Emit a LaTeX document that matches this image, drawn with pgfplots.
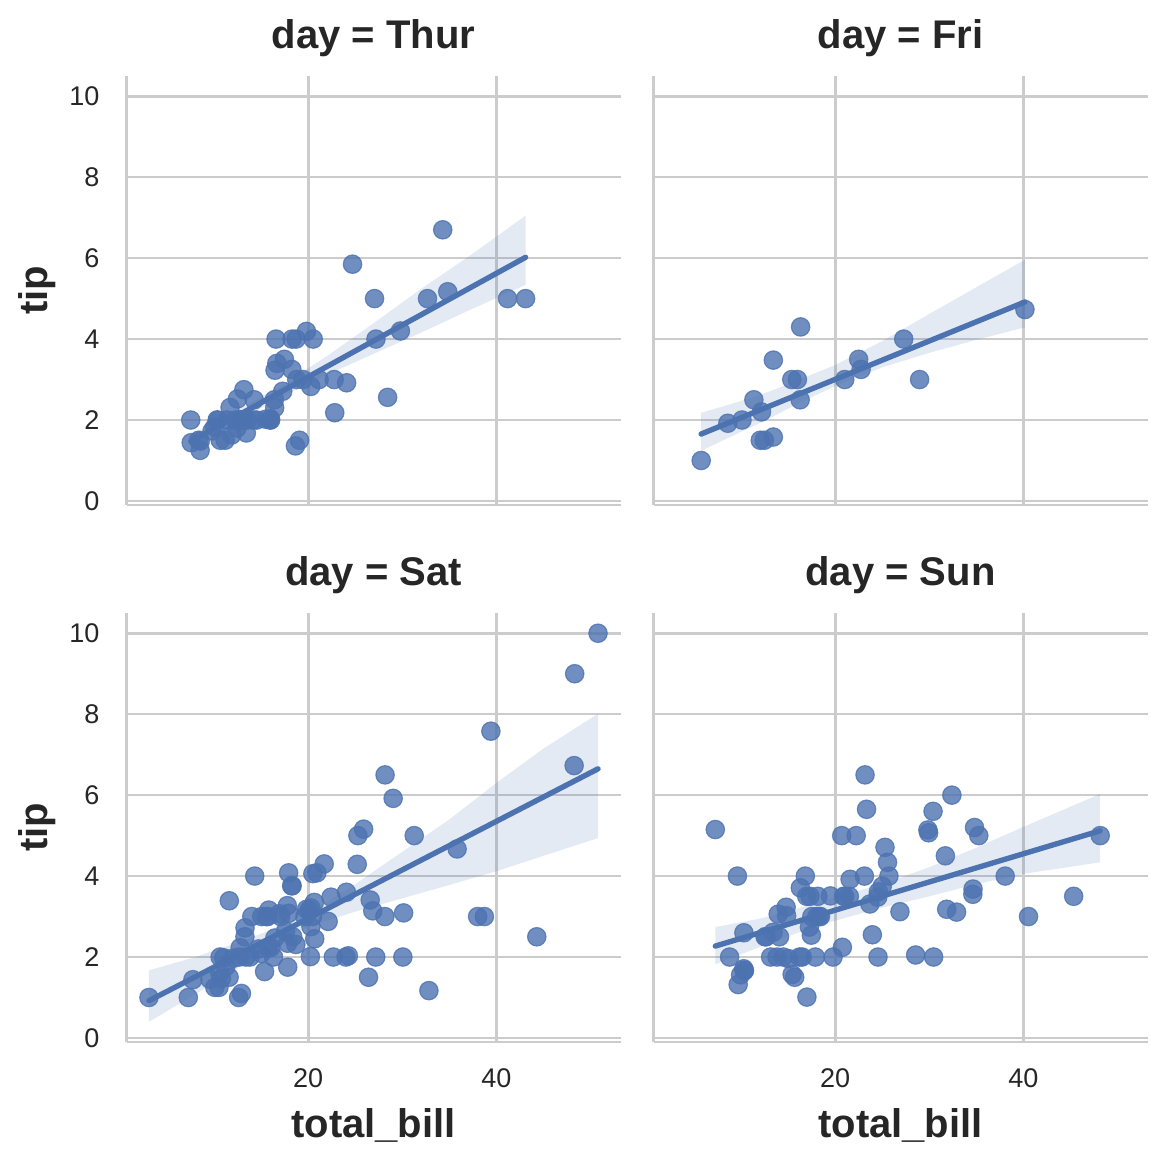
\documentclass[border=0pt]{standalone}
\usepackage{fontspec}
\setmainfont{Liberation Sans}
\usepackage{pgfplots}
\usepackage{pgfplotstable}
\pgfplotsset{compat=1.18}

\definecolor{deep}{HTML}{4C72B0}
\definecolor{gridgray}{HTML}{CCCCCC}
\definecolor{txt}{HTML}{262626}

% tips data, one table per day
\pgfplotstableread{
x y
27.20 4.00
22.76 3.00
17.29 2.71
19.44 3.00
16.66 3.40
10.07 1.83
32.68 5.00
15.98 2.03
34.83 5.17
13.03 2.00
18.28 4.00
24.71 5.85
21.16 3.00
10.65 1.50
12.43 1.80
24.08 2.92
11.69 2.31
13.42 1.68
14.26 2.50
15.95 2.00
12.48 2.52
29.80 4.20
8.52 1.48
14.52 2.00
11.38 2.00
22.82 2.18
19.08 1.50
20.27 2.83
11.17 1.50
12.26 2.00
18.26 3.25
8.51 1.25
10.33 2.00
14.15 2.00
16.00 2.00
13.16 2.75
17.47 3.50
34.30 6.70
41.19 5.00
27.05 5.00
16.43 2.30
8.35 1.50
18.64 1.36
11.87 1.63
9.78 1.73
7.51 2.00
19.81 4.19
28.44 2.56
15.48 2.02
16.58 4.00
7.56 1.44
10.34 2.00
43.11 5.00
13.00 2.00
13.51 2.00
18.71 4.00
12.74 2.01
13.00 2.00
16.40 2.50
20.53 4.00
16.47 3.23
18.78 3.00
}\thur

\pgfplotstableread{
x y
28.97 3.00
22.49 3.50
5.75 1.00
16.32 4.30
22.75 3.25
40.17 4.73
27.28 4.00
12.03 1.50
21.01 3.00
12.46 1.50
11.35 2.50
15.38 3.00
12.16 2.20
13.42 3.48
8.58 1.92
15.98 3.00
13.42 1.58
16.27 2.50
10.09 2.00
}\fri

\pgfplotstableread{
x y
20.65 3.35
17.92 4.08
20.29 2.75
15.77 2.23
39.42 7.58
19.82 3.18
17.81 2.34
13.37 2.00
12.69 2.00
21.70 4.30
19.65 3.00
9.55 1.45
18.35 2.50
15.06 3.00
20.69 2.45
17.78 3.27
24.06 3.60
16.31 2.00
16.93 3.07
18.69 2.31
31.27 5.00
16.04 2.24
38.01 3.00
26.41 1.50
11.24 1.76
48.27 6.73
20.29 3.21
13.81 2.00
11.02 1.98
18.29 3.76
17.59 2.64
20.08 3.15
16.45 2.47
3.07 1.00
20.23 2.01
15.01 2.09
12.02 1.97
17.07 3.00
26.86 3.14
25.28 5.00
14.73 2.20
10.51 1.25
17.92 3.08
44.30 2.50
22.42 3.48
20.92 4.08
15.36 1.64
20.49 4.06
25.21 4.29
18.24 3.76
14.31 4.00
14.00 3.00
7.25 1.00
10.59 1.61
10.63 2.00
50.81 10.00
15.81 3.16
26.59 3.41
38.73 3.00
24.27 2.03
12.76 2.23
30.06 2.00
25.89 5.16
48.33 9.00
13.27 2.50
28.17 6.50
12.90 1.10
28.15 3.00
11.59 1.50
7.74 1.44
30.14 3.09
20.45 3.00
13.28 2.72
22.12 2.88
24.01 2.00
15.69 3.00
11.61 3.39
10.77 1.47
15.53 3.00
10.07 1.25
12.60 1.00
32.83 1.17
35.83 4.67
29.03 5.92
27.18 2.00
22.67 2.00
17.82 1.75
}\sat

\pgfplotstableread{
x y
16.99 1.01
10.34 1.66
21.01 3.50
23.68 3.31
24.59 3.61
25.29 4.71
8.77 2.00
26.88 3.12
15.04 1.96
14.78 3.23
10.27 1.71
35.26 5.00
15.42 1.57
18.43 3.00
14.83 3.02
21.58 3.92
10.33 1.67
16.29 3.71
16.97 3.50
17.46 2.54
13.94 3.06
9.68 1.32
30.40 5.60
18.29 3.00
22.23 5.00
32.40 6.00
28.55 2.05
18.04 3.00
12.54 2.50
10.29 2.60
34.81 5.20
9.94 1.56
25.56 4.34
19.49 3.51
38.07 4.00
23.95 2.55
25.71 4.00
17.31 3.50
29.93 5.07
14.07 2.50
13.13 2.00
17.26 2.74
24.55 2.00
19.77 2.00
29.85 5.14
48.17 5.00
25.00 3.75
13.39 2.61
16.49 2.00
21.50 3.50
12.66 2.50
16.21 2.00
13.81 2.00
17.51 3.00
24.52 3.48
20.76 2.24
31.71 4.50
7.25 5.15
31.85 3.18
16.82 4.00
32.90 3.11
17.89 2.00
14.48 2.00
9.60 4.00
34.63 3.55
34.65 3.68
23.33 5.65
45.35 3.50
23.17 6.50
40.55 3.00
20.69 5.00
20.90 3.50
30.46 2.00
18.15 3.50
23.10 4.00
15.69 1.50
}\sun

\pgfplotsset{
  facet/.style={
    scale only axis, width=247pt, height=214.5pt,
    xmin=0.68, xmax=53.2, ymin=-0.1, ymax=10.5,
    axis x line*=bottom, axis y line*=left,
    axis line style={draw=gridgray, line width=1.3pt, -},
    xtick={20,40}, ytick={0,2,4,6,8,10},
    grid=major, major grid style={draw=gridgray, line width=1.3pt},
    major tick length=0pt,
    /pgf/number format/assume math mode=true,
    tick label style={font=\fontsize{13.5}{16}\selectfont, text=txt, inner sep=0pt},
    yticklabel style={anchor=east, xshift=-13.3pt},
    xticklabel style={anchor=north, yshift=-13.3pt},
    title style={at={(axis description cs:0.5,1)}, anchor=base, yshift=7.8pt,
      font=\bfseries\fontsize{20}{24}\selectfont, text=txt},
    every axis x label/.style={at={(axis description cs:0.5,-0.1937)}, anchor=center,
      font=\bfseries\fontsize{20}{24}\selectfont, text=txt},
    every axis y label/.style={at={(axis description cs:-0.1812,0.5)}, anchor=center, rotate=90,
      font=\bfseries\fontsize{20}{24}\selectfont, text=txt},
  },
  nox/.style={xticklabels={,,}},
  noy/.style={yticklabels={,,,,,,}},
  pts/.style={only marks, mark=*, mark size=4.6pt,
    mark options={fill=deep, draw=deep, fill opacity=0.8, draw opacity=0.8, line width=0.6pt}},
  band/.style={fill=deep, fill opacity=0.15, draw=none},
  fit/.style={deep, line width=2.7pt, line cap=round},
}

\begin{document}
\begin{tikzpicture}
\useasboundingbox (0,0) rectangle (583pt,582pt);

% Thur
\begin{axis}[facet, nox, at={(63.25pt,329.5pt)}, anchor=south west,
  title={day = Thur}, ylabel={tip}]
\addplot[pts] table {\thur};
\addplot[band] coordinates {(7.51,1.64) (12,2.17) (17.68,2.93) (22,3.58) (27,4.40) (32,5.24) (37,6.03) (43.11,7.05)
  (43.11,5.34) (37,4.70) (32,4.16) (27,3.64) (22,3.12) (17.68,2.63) (12,1.92) (7.51,1.25)} -- cycle;
\addplot[fit] coordinates {(7.51,1.472) (43.11,6.020)};
\end{axis}

% Fri
\begin{axis}[facet, nox, noy, at={(326.75pt,329.5pt)}, anchor=south west,
  title={day = Fri}]
\addplot[pts] table {\fri};
\addplot[band] coordinates {(5.75,2.18) (9,2.40) (12.5,2.66) (16,2.98) (20,3.36) (25,3.95) (30,4.62) (35,5.28) (40.17,5.96)
  (40.17,4.29) (35,3.98) (30,3.66) (25,3.30) (20,2.84) (16,2.40) (12.5,1.98) (9,1.60) (5.75,1.24)} -- cycle;
\addplot[fit] coordinates {(5.75,1.654) (40.17,4.917)};
\end{axis}

% Sat
\begin{axis}[facet, at={(63.25pt,61pt)}, anchor=south west,
  title={day = Sat}, ylabel={tip}, xlabel={total\_bill}]
\addplot[pts] table {\sat};
\addplot[band] coordinates {(3.07,1.67) (8,2.00) (13,2.40) (18,2.85) (20.4,3.13) (25,3.80) (30,4.60) (35,5.40) (40,6.30) (45,7.15) (50.81,8.01)
  (50.81,4.94) (45,4.50) (40,4.12) (35,3.78) (30,3.45) (25,3.12) (20.4,2.78) (18,2.50) (13,1.80) (8,1.08) (3.07,0.40)} -- cycle;
\addplot[fit] coordinates {(3.07,0.92) (50.81,6.65)};
\end{axis}

% Sun
\begin{axis}[facet, noy, at={(326.75pt,61pt)}, anchor=south west,
  title={day = Sun}, xlabel={total\_bill}]
\addplot[pts] table {\sun};
\addplot[band] coordinates {(7.25,2.74) (12,2.95) (16,3.20) (20,3.48) (25,3.80) (30,4.22) (35,4.70) (40.14,5.23) (48.17,6.03)
  (48.17,4.34) (40.14,4.06) (35,3.80) (30,3.50) (25,3.22) (20,2.90) (16,2.60) (12,2.25) (7.25,1.82)} -- cycle;
\addplot[fit] coordinates {(7.25,2.27) (48.17,5.12)};
\end{axis}
\end{tikzpicture}
\end{document}
